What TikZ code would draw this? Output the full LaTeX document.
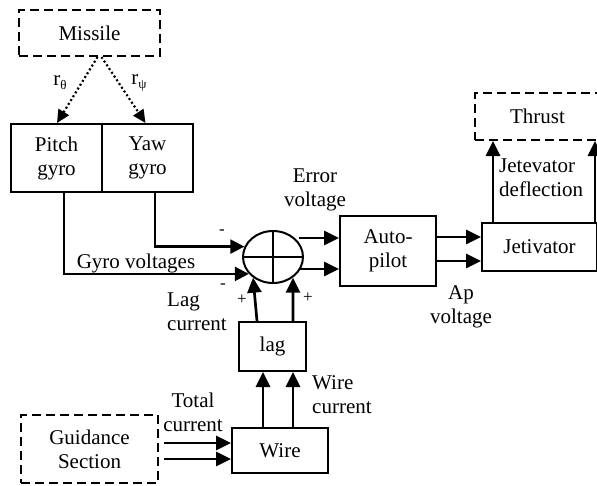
\documentclass[tikz,border=0pt]{standalone}
\usepackage{fontspec}
\setmainfont{Liberation Serif}
\usetikzlibrary{arrows.meta,shapes.geometric}
\begin{document}
\begin{tikzpicture}[x=1pt,y=-1pt, font=\fontsize{21}{24}\selectfont,
  box/.style={draw, line width=2pt, inner sep=0pt, align=center},
  dbox/.style={draw, line width=2pt, dash pattern=on 9pt off 5pt, inner sep=0pt, align=center},
  arr/.style={line width=2.7pt, -{Triangle[length=15pt,width=14pt]}},
  thinarr/.style={line width=2.2pt, -{Triangle[length=14pt,width=14pt]}},
  dotarr/.style={line width=2.2pt, dash pattern=on 2pt off 2.5pt, -{Triangle[length=13pt,width=12pt]}},
  lbl/.style={align=center, inner sep=0pt},
  sgn/.style={inner sep=0pt, font=\fontsize{17}{17}\selectfont}]
\useasboundingbox (0,0) rectangle (597,485);

% boxes
\node[dbox, minimum width=141pt, minimum height=46pt] (missile) at (89.5,33) {Missile};
\node[box, minimum width=91pt, minimum height=68pt] (pitch) at (56.5,158) {Pitch\\gyro};
\node[box, minimum width=91pt, minimum height=68pt] (yaw) at (147.5,158) {Yaw\\gyro};
\node[dbox, minimum width=125pt, minimum height=47pt] (thrust) at (537.5,116.5) {Thrust};
\node[draw, ellipse, line width=2pt, minimum width=60pt, minimum height=52pt, inner sep=0pt] (sum) at (273,257) {};
\draw[line width=2pt] (sum.north) -- (sum.south);
\draw[line width=2pt] (sum.west) -- (sum.east);
\node[box, minimum width=96pt, minimum height=70pt] (auto) at (388,251) {Auto-\\pilot};
\node[box, minimum width=115pt, minimum height=48pt] (jet) at (539.5,247) {Jetivator};
\node[box, minimum width=67pt, minimum height=49pt] (lag) at (272.5,346.5) {lag};
\node[box, minimum width=96pt, minimum height=45pt] (wire) at (280,450.5) {Wire};
\node[dbox, minimum width=137pt, minimum height=68pt] (guid) at (89.5,449) {Guidance\\Section};

% helper coordinates
\coordinate (m1) at ([shift={(8,0)}]missile.south);
\coordinate (m2) at ([shift={(12,0)}]missile.south);
\coordinate (p1) at ([shift={(0.5,0)}]pitch.north);
\coordinate (y1) at ([shift={(-2,0)}]yaw.north);
\coordinate (pg) at ([shift={(7.5,0)}]pitch.south);
\coordinate (yg) at ([shift={(7.5,0)}]yaw.south);
\coordinate (e1) at ([shift={(26,-19)}]sum.center);
\coordinate (e2) at ([shift={(26,12)}]sum.center);
\coordinate (a1) at ([shift={(0,-14)}]auto.east);
\coordinate (a2) at ([shift={(0,10)}]auto.east);
\coordinate (j1) at ([shift={(-46.5,0)}]jet.north);
\coordinate (j2) at ([shift={(55.5,0)}]jet.north);
\coordinate (l1) at ([shift={(-15.5,0)}]lag.north);
\coordinate (l2) at ([shift={(20.5,0)}]lag.north);
\coordinate (w1) at ([shift={(-17,0)}]wire.north);
\coordinate (w2) at ([shift={(13,0)}]wire.north);
\coordinate (g1) at ([shift={(5,-6)}]guid.east);
\coordinate (g2) at ([shift={(5,10)}]guid.east);

% dotted arrows from missile
\draw[dotarr] (m1) -- (p1);
\draw[dotarr] (m2) -- (y1);
\node[lbl] at (60,83) {r\raisebox{-4pt}{\fontsize{13}{13}\selectfont θ}};
\node[lbl] at (139,83) {r\raisebox{-4pt}{\fontsize{13}{13}\selectfont ψ}};

% gyro lines
\draw[thinarr] (pg) |- (sum.215);
\draw[thinarr] (yg) |- (sum.160);
\node[lbl] at (136,263) {Gyro voltages};
\node[sgn] at (222,232) {-};
\node[sgn] at (223,286) {-};
\node[sgn] at (242,300) {+};
\node[sgn] at (308,298) {+};

% sum to autopilot
\draw[arr] (e1) -- (e1 -| auto.west);
\draw[arr] (e2) -- (e2 -| auto.west);
\node[lbl] at (315,190) {Error\\voltage};

% autopilot to jetivator
\draw[arr] (a1) -- (a1 -| jet.west);
\draw[arr] (a2) -- (a2 -| jet.west);
\node[lbl] at (461,307) {Ap\\voltage};

% jetivator to thrust
\draw[arr] (j1) -- (j1 |- thrust.south);
\draw[arr] (j2) -- (j2 |- thrust.south);
\node[lbl, align=left, anchor=west] at (499,178) {Jetevator\\deflection};

% lag to sum
\draw[arr] (l1) -- (sum.226);
\draw[arr] (l2) -- (sum.314);
\node[lbl, align=left, anchor=west] at (167,312) {Lag\\current};

% wire to lag
\draw[arr] (w1) -- (w1 |- lag.south);
\draw[arr] (w2) -- (w2 |- lag.south);
\node[lbl, align=left, anchor=west] at (312,395) {Wire\\current};

% guidance to wire
\draw[arr] (g1) -- (g1 -| wire.west);
\draw[arr] (g2) -- (g2 -| wire.west);
\node[lbl] at (193,412) {Total\\current};
\end{tikzpicture}
\end{document}
